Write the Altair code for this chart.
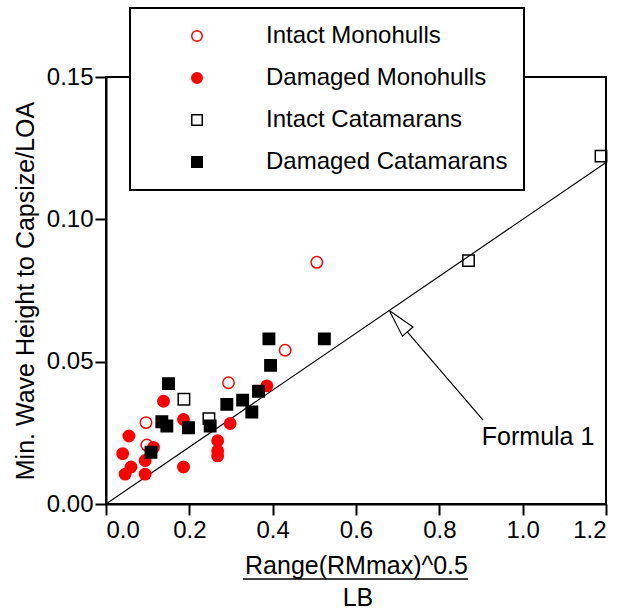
import altair as alt
import pandas as pd

FONT = "Liberation Sans"

# ---- data ----
categories = ["Intact Monohulls", "Damaged Monohulls", "Intact Catamarans", "Damaged Catamarans"]

intact_mono_x = [0.096, 0.098, 0.294, 0.430, 0.506]
intact_mono_y = [0.0286, 0.0207, 0.0426, 0.0540, 0.0849]

damaged_mono_x = [0.055, 0.040, 0.060, 0.046, 0.094, 0.094, 0.114, 0.138, 0.186, 0.186,
                  0.268, 0.268, 0.268, 0.298, 0.386]
damaged_mono_y = [0.0239, 0.0177, 0.0130, 0.0105, 0.0153, 0.0105, 0.0199, 0.0361, 0.0297, 0.0130,
                  0.0222, 0.0187, 0.0169, 0.0283, 0.0415]

intact_cat_x = [0.187, 0.247, 0.870, 1.188]
intact_cat_y = [0.0368, 0.0300, 0.0855, 0.1222]

damaged_cat_x = [0.108, 0.134, 0.146, 0.150, 0.198, 0.250, 0.290, 0.328, 0.350, 0.366,
                 0.391, 0.395, 0.524]
damaged_cat_y = [0.0182, 0.0289, 0.0274, 0.0423, 0.0268, 0.0274, 0.0350, 0.0365, 0.0323, 0.0396,
                 0.0580, 0.0487, 0.0580]

# Formula 1 line
formula_x = [0.0, 1.2]
formula_y = [0.0, 0.12]

# annotation arrow (data units)
arrow_shaft_x = [0.905, 0.7236]
arrow_shaft_y = [0.0295, 0.0604]
arrow_tip_x = [0.68]
arrow_tip_y = [0.068]
formula_label = ["Formula 1"]
formula_label_x = [0.902]
formula_label_y = [0.0207]

x_ticks = [0.0, 0.2, 0.4, 0.6, 0.8, 1.0, 1.2]
y_ticks = [0.0, 0.05, 0.10, 0.15]

type_fill = ["transparent", "red", "transparent", "black"]
type_stroke = ["red", "red", "black", "black"]
type_shape = ["circle", "circle", "square", "square"]

# ---- build tables ----
rows = []
for cat, xs, ys in zip(categories,
                       [intact_mono_x, damaged_mono_x, intact_cat_x, damaged_cat_x],
                       [intact_mono_y, damaged_mono_y, intact_cat_y, damaged_cat_y]):
    for xv, yv in zip(xs, ys):
        rows.append({"x": xv, "y": yv, "type": cat})
df = pd.DataFrame(rows)

line_df = pd.DataFrame({"x": formula_x, "y": formula_y})
shaft_df = pd.DataFrame({"x": arrow_shaft_x, "y": arrow_shaft_y})
tip_df = pd.DataFrame({"x": arrow_tip_x, "y": arrow_tip_y})
label_df = pd.DataFrame({"x": formula_label_x, "y": formula_label_y, "t": formula_label})
one = pd.DataFrame({"a": [0]})

xscale = alt.Scale(domain=[0, 1.2], nice=False, zero=False)
yscale = alt.Scale(domain=[0, 0.15], nice=False, zero=False)

legend = alt.Legend(title=None, orient="none", legendX=24, legendY=-69)

x_enc = alt.X("x:Q", scale=xscale,
              axis=alt.Axis(values=x_ticks, format=".1f", title="Range(RMmax)^0.5",
                            titleY=69, titleBaseline="alphabetic", titleAlign="center"))
y_enc = alt.Y("y:Q", scale=yscale,
              axis=alt.Axis(values=y_ticks, format=".2f", title="Min. Wave Height to Capsize/LOA",
                            titleX=-73, titleY=213.5, titleAngle=270,
                            titleBaseline="alphabetic", titleAlign="center"))

line = alt.Chart(line_df).mark_line(color="black", strokeWidth=1.2).encode(x=x_enc, y=y_enc)

shaft = alt.Chart(shaft_df).mark_line(color="black", strokeWidth=1.2).encode(x="x:Q", y="y:Q")

head = alt.Chart(tip_df).mark_point(
    shape="M0,0L0.5,2L-0.5,2Z", size=784, angle=319, filled=True,
    fill="white", stroke="black", strokeWidth=1.2, opacity=1
).encode(x="x:Q", y="y:Q")

ftext = alt.Chart(label_df).mark_text(
    align="left", baseline="alphabetic", font=FONT, fontSize=25, color="black"
).encode(x="x:Q", y="y:Q", text="t:N")

points = alt.Chart(df).mark_point(filled=True, size=130, strokeWidth=1.5, opacity=1).encode(
    x="x:Q", y="y:Q",
    fill=alt.Fill("type:N", scale=alt.Scale(domain=categories, range=type_fill), legend=legend),
    stroke=alt.Stroke("type:N", scale=alt.Scale(domain=categories, range=type_stroke), legend=legend),
    shape=alt.Shape("type:N", scale=alt.Scale(domain=categories, range=type_shape), legend=legend),
)

lb = alt.Chart(one).mark_text(
    text="LB", align="center", baseline="alphabetic", font=FONT, fontSize=25, color="black"
).encode(x=alt.value(252), y=alt.value(529))

bar = alt.Chart(one).mark_rule(color="black", strokeWidth=1.5).encode(
    x=alt.value(137), x2=alt.value(362), y=alt.value(502))

chart = alt.layer(line, shaft, head, ftext, points, lb, bar).properties(
    width=500, height=427,
    padding={"left": 106, "top": 77, "right": 30, "bottom": 107},
    autosize=alt.AutoSizeParams(type="none"),
    background="white",
).configure_view(
    stroke="black", strokeWidth=2
).configure_axis(
    domainColor="black", domainWidth=2, tickColor="black", tickWidth=2, tickSize=11,
    labelFont=FONT, labelFontSize=24, labelColor="black", labelPadding=2,
    titleFont=FONT, titleFontSize=25, titleFontWeight="normal", titleColor="black",
    grid=False,
).configure_axisX(labelPadding=3).configure_legend(
    strokeColor="black", strokeWidth=2, fillColor="white", padding=16,
    labelFont=FONT, labelFontSize=24, labelColor="black", labelLimit=400,
    symbolSize=110, symbolStrokeWidth=1.5, symbolOffset=39, labelOffset=57,
    rowPadding=18,
)

chart.save("out.html", embed_options={"renderer": "svg", "actions": False})
